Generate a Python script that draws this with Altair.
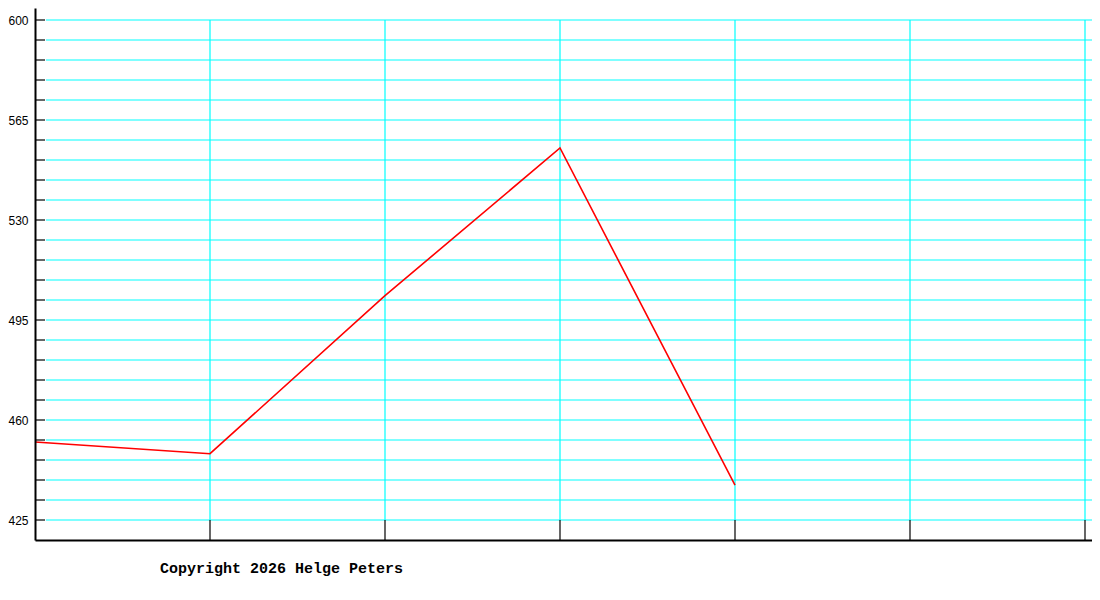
import altair as alt
import pandas as pd

# data values
x_index = [0, 1, 2, 3, 4]
values = [452.3, 448.2, 503.5, 555.2, 437.2]

y_labels = [425, 460, 495, 530, 565, 600]
y_grid = list(range(425, 601, 7))
x_grid = [1, 2, 3, 4, 5, 6]
copyright_text = ["Copyright 2026 Helge Peters"]

W, H = 1057, 532
Y_DOM = [418, 604.2]
X_DOM = [0, 1057 / 175]

line_df = pd.DataFrame({"x": x_index, "v": values})
hgrid_df = pd.DataFrame({"g": y_grid})
vgrid_df = pd.DataFrame({"x": x_grid})
text_df = pd.DataFrame({"t": copyright_text})

xs = alt.Scale(domain=X_DOM, nice=False, zero=False)
ys = alt.Scale(domain=Y_DOM, nice=False, zero=False)

x_axis = alt.Axis(labels=False, ticks=False, grid=False, title=None,
                  domainColor="black", domainWidth=2, zindex=1)
y_axis = alt.Axis(values=y_labels, ticks=False, grid=False, title=None,
                  labelPadding=7, labelFont="Liberation Sans", labelFontSize=12,
                  labelColor="black", domainColor="black", domainWidth=2, zindex=1)

hgrid = alt.Chart(hgrid_df).mark_rule(color="#00ffff", strokeWidth=1.2).encode(
    y=alt.Y("g:Q", scale=ys, axis=y_axis),
    x=alt.value(11), x2=alt.value(W),
)
yticks = alt.Chart(hgrid_df).mark_rule(color="black", strokeWidth=1.2).encode(
    y=alt.Y("g:Q", scale=ys),
    x=alt.value(0), x2=alt.value(10),
)
vgrid = alt.Chart(vgrid_df).mark_rule(color="#00ffff", strokeWidth=1.2).encode(
    x=alt.X("x:Q", scale=xs, axis=x_axis),
    y=alt.datum(425), y2=alt.datum(600),
)
xticks = alt.Chart(vgrid_df).mark_rule(color="black", strokeWidth=1.2).encode(
    x=alt.X("x:Q", scale=xs),
    y=alt.datum(425), y2=alt.value(H),
)
line = alt.Chart(line_df).mark_line(color="#ff0000", strokeWidth=1.6).encode(
    x=alt.X("x:Q", scale=xs),
    y=alt.Y("v:Q", scale=ys),
)
note = alt.Chart(text_df).mark_text(
    font="Liberation Mono", fontSize=15, fontWeight="bold", color="black",
    align="left", baseline="alphabetic",
).encode(text="t:N", x=alt.value(125), y=alt.value(565))

chart = alt.layer(hgrid, yticks, vgrid, xticks, line, note).properties(
    width=W, height=H,
    autosize=alt.AutoSizeParams(type="none"),
    padding={"left": 27, "top": 0, "right": 0, "bottom": 60},
    background="white",
).configure_view(stroke=None)

chart.save("out.html", embed_options={"renderer": "svg", "actions": False})
